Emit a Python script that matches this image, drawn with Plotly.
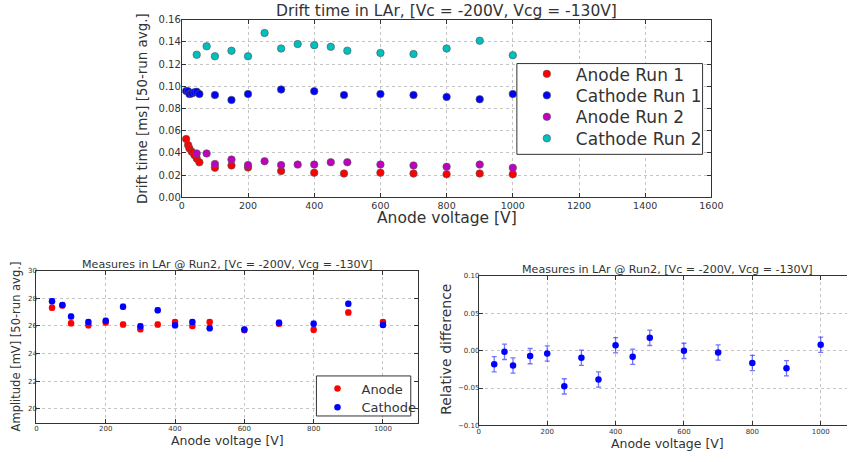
import plotly.graph_objects as go

# ---- Drift time (top panel) ----
v_run1 = [13, 19, 23, 30, 38, 45, 53, 100, 150, 200, 300, 400, 490, 600, 700, 800, 900, 1000]
anode_run1 = [0.0525, 0.047, 0.044, 0.041, 0.038, 0.035, 0.0315, 0.0266, 0.0287, 0.0269,
              0.0237, 0.0222, 0.0214, 0.0222, 0.0214, 0.0208, 0.0214, 0.0208]
cathode_run1 = [0.0958, 0.0955, 0.093, 0.0935, 0.0945, 0.095, 0.093, 0.0921, 0.0877, 0.093,
                0.0971, 0.0956, 0.0921, 0.093, 0.0921, 0.0904, 0.0883, 0.093]

v_run2 = [45, 75, 100, 150, 200, 250, 300, 350, 400, 450, 500, 600, 700, 800, 900, 1000]
anode_run2 = [0.0395, 0.0395, 0.030, 0.034, 0.029, 0.0325, 0.029, 0.0295, 0.0295, 0.0316,
              0.0316, 0.0295, 0.0287, 0.0275, 0.0295, 0.0266]
cathode_run2 = [0.1284, 0.136, 0.127, 0.132, 0.127, 0.148, 0.134, 0.138, 0.137, 0.1355,
                0.132, 0.130, 0.129, 0.134, 0.141, 0.128]

# ---- Amplitude, Run 2 (bottom-left panel) ----
amp_anode = [27.33, 27.49, 26.19, 26.05, 26.26, 26.10, 25.77, 26.10, 26.29, 26.00,
             26.29, 25.70, 26.17, 25.72, 26.97, 26.29]
amp_cathode = [27.80, 27.52, 26.69, 26.29, 26.38, 27.40, 25.98, 27.14, 26.05, 26.29,
               25.84, 25.74, 26.24, 26.17, 27.61, 26.08]
amp_err = [0.18] * len(v_run2)

# ---- Relative difference (bottom-right panel) ----
rel_diff = [-0.0183, -0.0017, -0.020, -0.0074, -0.0039, -0.0478, -0.0096, -0.0387,
            0.0070, -0.0083, 0.0170, -0.0004, -0.0026, -0.0165, -0.0235, 0.0078]
rel_err = [0.0102] * len(v_run2)

W, H = 859, 462
FONT = "DejaVu Sans"
TXT = "#333333"
FRAME = "#333333"
RED, BLUE, MAG, CYAN = "#ff0000", "#0000ff", "#bf00bf", "#00bfbf"


def px(x):
    return x / W


def py(y):
    return 1 - y / H


fig = go.Figure()

# Top panel: one legend per entry so the rows can be spaced like a matplotlib legend
edge = dict(color="#555555", width=0.6)
top_series = [
    ("Anode Run 1", v_run1, anode_run1, RED, "legend", 71),
    ("Cathode Run 1", v_run1, cathode_run1, BLUE, "legend3", 93),
    ("Anode Run 2", v_run2, anode_run2, MAG, "legend4", 115),
    ("Cathode Run 2", v_run2, cathode_run2, CYAN, "legend5", 137),
]
legend_defs = {}
for name, xs, ys, col, lg, row_y in top_series:
    fig.add_trace(go.Scatter(
        x=xs, y=ys, mode="markers", name=name,
        marker=dict(color=col, size=7.5, line=edge),
        xaxis="x", yaxis="y", legend=lg,
    ))
    legend_defs[lg] = dict(x=px(524), y=py(row_y), xanchor="left", yanchor="middle",
                           bgcolor="rgba(0,0,0,0)", borderwidth=0,
                           font=dict(size=17, color=TXT), itemwidth=48)

# Bottom-left panel: amplitude with error bars
for name, ys, col, ecol, lg, row_y in [
        ("Anode", amp_anode, RED, "rgba(255,0,0,0.45)", "legend2", 393),
        ("Cathode", amp_cathode, BLUE, "rgba(0,0,255,0.45)", "legend6", 412)]:
    fig.add_trace(go.Scatter(
        x=v_run2, y=ys, mode="markers", name=name,
        marker=dict(color=col, size=6.5),
        error_y=dict(type="data", array=amp_err, color=ecol, thickness=1.2, width=2.5),
        xaxis="x2", yaxis="y2", legend=lg,
    ))
    legend_defs[lg] = dict(x=px(316), y=py(row_y), xanchor="left", yanchor="middle",
                           bgcolor="rgba(0,0,0,0)", borderwidth=0,
                           font=dict(size=13, color=TXT), itemwidth=38)

# Bottom-right panel: relative difference
fig.add_trace(go.Scatter(
    x=v_run2, y=rel_diff, mode="markers", showlegend=False,
    marker=dict(color=BLUE, size=6.5),
    error_y=dict(type="data", array=rel_err, color="rgba(0,0,255,0.55)", thickness=1.3, width=2.5),
    xaxis="x3", yaxis="y3",
))

axis_common = dict(
    showline=True, linecolor=FRAME, linewidth=1, mirror="ticks",
    ticks="inside", ticklen=4, tickcolor=FRAME,
    showgrid=True, gridcolor="#c4c4c4", griddash="dot", gridwidth=1,
    zeroline=False, color=TXT,
)

fig.update_layout(
    width=W, height=H,
    margin=dict(l=0, r=0, t=0, b=0),
    paper_bgcolor="white", plot_bgcolor="white",
    font=dict(family=FONT, color=TXT),
    xaxis=dict(axis_common, domain=[px(182), px(721)], range=[0, 1600], dtick=200,
               anchor="y", tickfont=dict(size=9.5), ticklabelstandoff=-1),
    yaxis=dict(axis_common, domain=[py(197), py(15)], range=[0, 0.16], dtick=0.02,
               tickformat=".2f", anchor="x", tickfont=dict(size=10), ticklabelstandoff=-2),
    xaxis2=dict(axis_common, domain=[px(34), px(422)], range=[0, 1100], dtick=200,
                anchor="y2", tickfont=dict(size=7), ticklabelstandoff=-1),
    yaxis2=dict(axis_common, domain=[py(427.7), py(272.3)], range=[19, 30], dtick=2,
                tick0=20, anchor="x2", tickfont=dict(size=7), ticklabelstandoff=-3),
    xaxis3=dict(axis_common, domain=[px(484.3), 1.0], range=[0, 1077], dtick=200,
                anchor="y3", tickfont=dict(size=7), ticklabelstandoff=-1),
    yaxis3=dict(axis_common, domain=[py(430.7), py(277.3)], range=[-0.10, 0.10], dtick=0.05,
                tickformat=".2f", anchor="x3", tickfont=dict(size=7), ticklabelstandoff=-3,
                mirror=False),
    **legend_defs,
)

# Legend frames
for x0, y0, x1, y1 in [(523, 60, 712, 153), (319, 380, 415, 421)]:
    fig.add_shape(type="rect", xref="paper", yref="paper",
                  x0=px(x0), y0=py(y1), x1=px(x1), y1=py(y0),
                  line=dict(color=FRAME, width=1), fillcolor="white", layer="above")

annotations = [
    # top panel
    dict(text="Drift time in LAr, [Vc = -200V, Vcg = -130V]", x=px(451), y=py(6), size=15.5),
    dict(text="Anode voltage [V]", x=px(452), y=py(218), size=15.5),
    dict(text="Drift time [ms] [50-run avg.]", x=px(142), y=py(106), size=13.4, angle=-90),
    # bottom-left panel
    dict(text="Measures in LAr @ Run2, [Vc = -200V, Vcg = -130V]", x=px(228), y=py(265.5), size=11.1),
    dict(text="Anode voltage [V]", x=px(228), y=py(446), size=12.5),
    dict(text="Amplitude [mV] [50-run avg.]", x=px(13), y=py(350), size=11.5, angle=-90),
    # bottom-right panel
    dict(text="Measures in LAr @ Run2, [Vc = -200V, Vcg = -130V]", x=px(676), y=py(270.5), size=11.1),
    dict(text="Anode voltage [V]", x=px(676), y=py(449), size=12.5),
    dict(text="Relative difference", x=px(450), y=py(353), size=14, angle=-90),
]
for a in annotations:
    fig.add_annotation(
        text=a["text"], x=a["x"], y=a["y"], xref="paper", yref="paper",
        xanchor="center", yanchor="middle", showarrow=False,
        textangle=a.get("angle", 0), font=dict(family=FONT, size=a["size"], color=TXT),
    )

fig.write_html("out.html")
